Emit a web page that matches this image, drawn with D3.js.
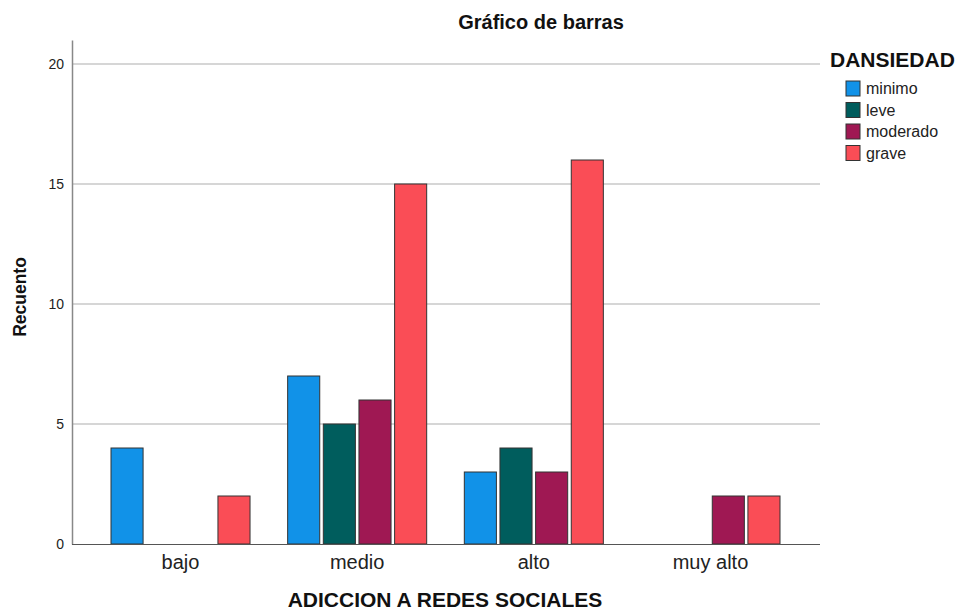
<!DOCTYPE html>
<html><head><meta charset="utf-8">
<script src="https://cdn.jsdelivr.net/npm/d3@7"></script>
<style>body{margin:0;background:#fff;font-family:Arial,"Liberation Sans",sans-serif;}</style>
</head><body><svg id="c" width="955" height="613"></svg>
<script>
const categories = ["bajo","medio","alto","muy alto"];
const seriesNames = ["minimo","leve","moderado","grave"];
const minimo   = [4, 7, 3, 0];
const leve     = [0, 5, 4, 0];
const moderado = [0, 6, 3, 2];
const grave    = [2, 15, 16, 2];
const yTicks = [0,5,10,15,20];
const colors = ["#1192e8","#005d5d","#9f1853","#fa4d56"];
const seriesVals = [minimo, leve, moderado, grave];

const svg = d3.select("#c");
const x0 = d3.scaleBand().domain(categories).range([111, 780]).paddingInner(0.213).paddingOuter(0);
const x1 = d3.scaleBand().domain(seriesNames).range([0, x0.bandwidth()]).paddingInner(0.1).paddingOuter(0);
const y = d3.scaleLinear().domain([0,21]).range([544, 40]);

// gridlines
svg.append("g").selectAll("line").data(yTicks.filter(d=>d>0)).join("line")
  .attr("x1",72).attr("x2",820).attr("y1",d=>y(d)).attr("y2",d=>y(d))
  .attr("stroke","#c8c8c8").attr("stroke-width",1.5);

// y axis
const ya = svg.append("g").attr("transform","translate(72,0)")
  .call(d3.axisLeft(y).tickValues(yTicks).tickSize(0).tickPadding(8));
ya.select(".domain").attr("stroke","#888").attr("stroke-width",1.5);
ya.selectAll("text").attr("font-size",14).attr("fill","#222").attr("font-family","Arial");

// bars
const groups = svg.append("g").selectAll("g").data(categories).join("g")
  .attr("transform",d=>`translate(${x0(d)},0)`);
groups.selectAll("rect").data((c,i)=>seriesNames.map((s,j)=>({s, v: seriesVals[j][i], j})).filter(d=>d.v>0))
  .join("rect")
  .attr("x",d=>x1(d.s)).attr("width",x1.bandwidth())
  .attr("y",d=>y(d.v)).attr("height",d=>y(0)-y(d.v))
  .attr("fill",d=>colors[d.j]).attr("stroke","#333").attr("stroke-width",1);

// x axis
svg.append("line").attr("x1",72).attr("x2",820).attr("y1",544.5).attr("y2",544.5)
  .attr("stroke","#555").attr("stroke-width",1.2);
const xa = svg.append("g").attr("transform","translate(0,544)")
  .call(d3.axisBottom(x0).tickSize(0).tickPadding(11));
xa.select(".domain").remove();
xa.selectAll("text").attr("font-size",20).attr("fill","#222").attr("font-family","Arial");

// titles
svg.append("text").attr("x",541).attr("y",29).attr("text-anchor","middle")
  .attr("font-size",20).attr("font-weight","bold").attr("fill","#111").text("Gráfico de barras");
svg.append("text").attr("x",445).attr("y",607).attr("text-anchor","middle")
  .attr("font-size",21).attr("font-weight","bold").attr("fill","#111").text("ADICCION A REDES SOCIALES");
svg.append("text").attr("transform","translate(26,297) rotate(-90)").attr("text-anchor","middle")
  .attr("font-size",17.5).attr("font-weight","bold").attr("fill","#111").text("Recuento");

// legend
svg.append("text").attr("x",830).attr("y",67).attr("font-size",21).attr("font-weight","bold")
  .attr("fill","#111").text("DANSIEDAD");
const lg = svg.append("g").selectAll("g").data(seriesNames).join("g")
  .attr("transform",(d,i)=>`translate(846,${81+i*21.5})`);
lg.append("rect").attr("width",14).attr("height",15).attr("fill",(d,i)=>colors[i])
  .attr("stroke","#333").attr("stroke-width",1);
lg.append("text").attr("x",20).attr("y",13).attr("font-size",16).attr("fill","#222").text(d=>d);
</script></body></html>
